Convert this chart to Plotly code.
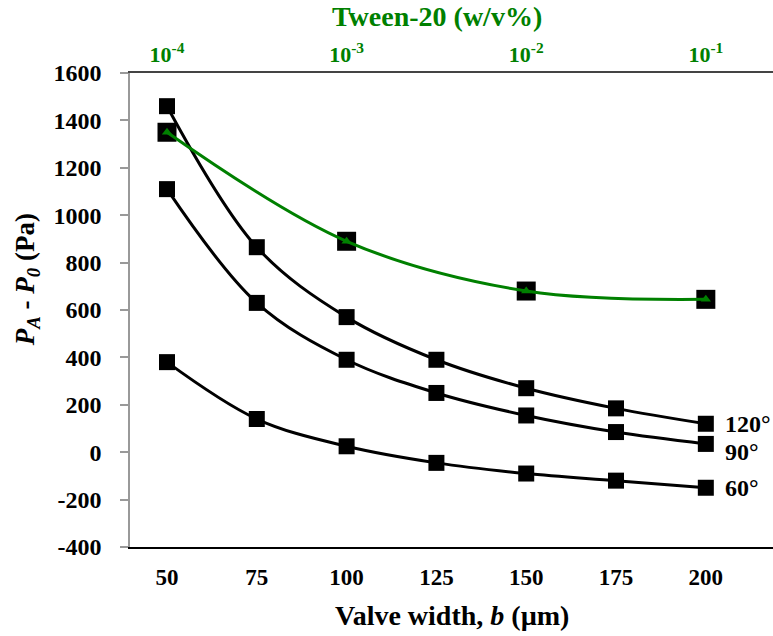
import plotly.graph_objects as go

# ---- data ----
valve_width = [50, 75, 100, 125, 150, 175, 200]
p_120 = [1460, 865, 570, 390, 270, 185, 120]
p_90 = [1110, 630, 390, 250, 155, 85, 35]
p_60 = [380, 140, 25, -45, -90, -120, -150]
tween_conc = [1e-4, 1e-3, 1e-2, 1e-1]
p_tween = [1350, 890, 680, 645]
angle_labels = ["120°", "90°", "60°"]
y_ticks = [-400, -200, 0, 200, 400, 600, 800, 1000, 1200, 1400, 1600]
x_ticks = [50, 75, 100, 125, 150, 175, 200]
tween_ticks = [1e-4, 1e-3, 1e-2, 1e-1]
tween_ticktext = ["10<sup>-4</sup>", "10<sup>-3</sup>", "10<sup>-2</sup>", "10<sup>-1</sup>"]

FONT = "Times New Roman, Liberation Serif, serif"
GREEN = "#008000"

x_range = [39.7, 218.7]
# top log axis aligned so that 1e-4 sits at b=50 and each decade spans 50 um
tw_range = [-4 + (x_range[0] - 50) / 50, -4 + (x_range[1] - 50) / 50]

fig = go.Figure()

for vals in (p_120, p_90, p_60):
    fig.add_trace(go.Scatter(
        x=valve_width, y=vals, mode="lines+markers",
        line=dict(color="black", width=3, shape="spline"),
        marker=dict(symbol="square", size=16, color="black"),
        showlegend=False, xaxis="x", yaxis="y", cliponaxis=False))

fig.add_trace(go.Scatter(
    x=tween_conc, y=p_tween, mode="markers",
    marker=dict(symbol="square", size=19, color="black"),
    showlegend=False, xaxis="x2", yaxis="y", cliponaxis=False))
fig.add_trace(go.Scatter(
    x=tween_conc, y=p_tween, mode="lines+markers",
    line=dict(color=GREEN, width=3, shape="spline"),
    marker=dict(symbol="triangle-up", size=9, color=GREEN),
    showlegend=False, xaxis="x2", yaxis="y", cliponaxis=False))

annotations = []
for vals, lab, ys in zip((p_120, p_90, p_60), angle_labels, (0, -8, 0)):
    annotations.append(dict(
        x=valve_width[-1], y=vals[-1], xref="x", yref="y", text="<b>" + lab + "</b>",
        showarrow=False, xanchor="left", yanchor="middle", xshift=17, yshift=ys,
        font=dict(family=FONT, size=24, color="black")))

annotations.append(dict(
    x=-0.160, y=0.563, xref="paper", yref="paper", textangle=-90,
    text="<b><i>P</i><sub><i>A</i></sub> - <i>P</i><sub><i>0</i></sub> (Pa)</b>",
    showarrow=False, xanchor="center", yanchor="middle",
    font=dict(family=FONT, size=27, color="black")))
annotations.append(dict(
    x=0.5, y=-0.1435, xref="paper", yref="paper",
    text="<b>Valve width, <i>b</i> (µm)</b>", showarrow=False,
    xanchor="center", yanchor="middle",
    font=dict(family=FONT, size=28, color="black")))
annotations.append(dict(
    x=0.477, y=1.120, xref="paper", yref="paper",
    text="<b>Tween-20 (w/v%)</b>", showarrow=False,
    xanchor="center", yanchor="middle",
    font=dict(family=FONT, size=28, color=GREEN)))

fig.update_layout(
    width=773, height=636, autosize=False,
    margin=dict(l=130, r=0, t=73, b=89, pad=0),
    paper_bgcolor="white", plot_bgcolor="white",
    showlegend=False,
    annotations=annotations,
    xaxis=dict(
        range=x_range, tickvals=x_ticks, ticktext=["<b>%d</b>" % v for v in x_ticks],
        ticks="", showgrid=False, zeroline=False,
        showline=True, linecolor="black", linewidth=1.5, mirror=False,
        ticklabelstandoff=9,
        tickfont=dict(family=FONT, size=23, color="black")),
    xaxis2=dict(
        type="log", range=tw_range, overlaying="x", side="top", anchor="y",
        tickvals=tween_ticks, ticktext=["<b>" + t + "</b>" for t in tween_ticktext], ticks="",
        showgrid=False, zeroline=False, showline=True, linecolor="#444444",
        linewidth=1.5, ticklabelstandoff=0,
        tickfont=dict(family=FONT, size=22, color=GREEN)),
    yaxis=dict(
        range=[-400, 1600], tickvals=y_ticks, ticktext=["<b>%d</b>" % v for v in y_ticks],
        ticks="outside", ticklen=8,
        tickcolor="#999999", tickwidth=1.5, showgrid=False, zeroline=False,
        showline=True, linecolor="#999999", linewidth=1.5,
        ticklabelstandoff=14,
        tickfont=dict(family=FONT, size=24, color="black")),
)

fig.write_html("out.html", config={"displayModeBar": False},
               post_script="document.body.style.margin='0px';")
